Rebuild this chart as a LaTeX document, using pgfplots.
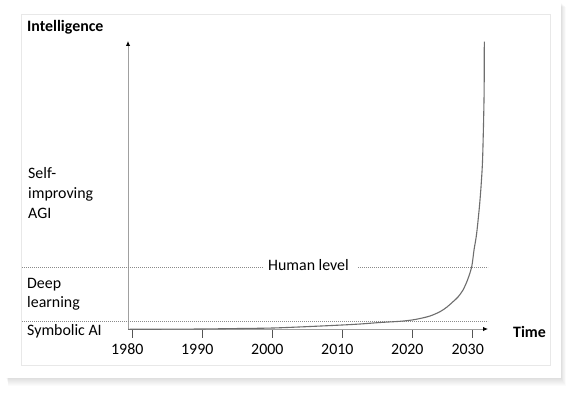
\documentclass[border=0pt]{standalone}
\usepackage{fontspec}
\setmainfont{Carlito}
\usepackage{pgfplots}
\pgfplotsset{compat=1.18}
\usetikzlibrary{arrows.meta}
\definecolor{curvec}{HTML}{6E6E6E}
\definecolor{axisc}{HTML}{A0A0A0}
\definecolor{dotc}{HTML}{8A8A8A}
\definecolor{tickc}{HTML}{555555}
\newcommand{\lbl}{\fontsize{15.9bp}{19bp}\selectfont}
\begin{document}
\begin{tikzpicture}[x=1bp,y=1bp]
\fill[white] (0,0) rectangle (571,395);
\foreach \d in {1,...,8} { \fill[black,opacity=0.014] (6+0.3*\d,17-\d) rectangle (561+0.6*\d,392-0.5*\d); }
\fill[white] (6,17) rectangle (561,392);
\draw[black!9, line width=0.8bp] (21,30) rectangle (550,381);
\begin{axis}[
  at={(128bp,66bp)}, anchor=south west,
  scale only axis, width=360bp, height=288bp,
  xmin=128, xmax=488, ymin=66, ymax=354,
  axis x line=bottom, axis y line=left, clip=false,
  x axis line style={axisc, line width=0.9bp, -{Latex[length=5bp,width=4.5bp,color=black]}},
  y axis line style={axisc, line width=0.9bp, -{Latex[length=5bp,width=4.5bp,color=black]}},
  ytick=\empty,
  xtick={132.3,202.3,272.3,342.3,412.3,472.7},
  xticklabels={1980,1990,2000,2010,2020,2030},
  xtick pos=bottom, xtick align=outside, major tick length=8.5bp,
  major x tick style={draw=tickc, line width=1.1bp},
  /pgf/number format/assume math mode=true,
  xticklabel style={font=\lbl, anchor=base, xshift=-5bp, yshift=-16.5bp, inner sep=0pt},
]
% dotted reference lines
\addplot[dotc, line width=0.9bp, dash pattern=on 1bp off 1bp] coordinates {(22,128) (263,128)};
\addplot[dotc, line width=0.9bp, dash pattern=on 1bp off 1bp] coordinates {(358,128) (488,128)};
\addplot[dotc, line width=0.9bp, dash pattern=on 1bp off 1bp] coordinates {(22,74) (488,74)};
% curve
\addplot[curvec, line width=1.1bp, smooth, tension=0.5] coordinates {
(128,65.7) (160,65.8) (200,66) (240,66.5) (273,67) (310,68.5) (342,70) (360,71)
(380,72.5) (400,73.7) (412,75) (420,76.5) (430,79) (440,83.3) (447,88) (453,93.3)
(458,98) (463,105) (467.5,115) (471.7,128.3) (474,145) (476.7,162) (480,195)
(482.3,229) (483.3,262) (484,295) (484.2,315) (484.3,353.3)
};
% labels
\node[anchor=base west, inner sep=0pt, font=\lbl\bfseries] at (axis cs:27,363.3) {Intelligence};
\node[anchor=base west, inner sep=0pt, font=\lbl] at (axis cs:28,216.7) {Self-};
\node[anchor=base west, inner sep=0pt, font=\lbl] at (axis cs:28,196.7) {improving};
\node[anchor=base west, inner sep=0pt, font=\lbl] at (axis cs:28,176.7) {AGI};
\node[anchor=base west, inner sep=0pt, font=\lbl] at (axis cs:27,106.7) {Deep};
\node[anchor=base west, inner sep=0pt, font=\lbl] at (axis cs:27,87.3) {learning};
\node[anchor=base west, inner sep=0pt, font=\lbl] at (axis cs:27,59.3) {Symbolic AI};
\node[anchor=base west, inner sep=0pt, font=\lbl] at (axis cs:268,124.3) {Human level};
\node[anchor=base west, inner sep=0pt, font=\lbl\bfseries] at (axis cs:513,57.3) {Time};
\end{axis}
\end{tikzpicture}
\end{document}
